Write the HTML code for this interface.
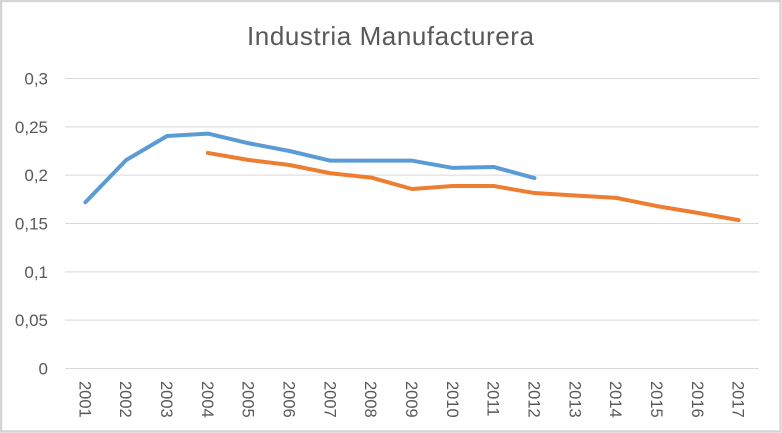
<!DOCTYPE html>
<html>
<head>
<meta charset="utf-8">
<style>
html,body{margin:0;padding:0;background:#fff;width:782px;height:433px;overflow:hidden}
svg{display:block}
text{font-family:"Liberation Sans",sans-serif;fill:#595959}
</style>
</head>
<body>
<svg id="chart" width="782" height="433" viewBox="0 0 782 433" xmlns="http://www.w3.org/2000/svg">
<rect x="1" y="1" width="779.5" height="430.5" fill="#fff" stroke="#d4d4d4" stroke-width="2.4"/>
<text x="390.5" y="45" text-anchor="middle" font-size="26" textLength="287" lengthAdjust="spacing">Industria Manufacturera</text>
<g id="grid"></g>
<g id="ylabels"></g>
<g id="xlabels"></g>
<g id="series"></g>
</svg>
<script>
const categories = ['2001','2002','2003','2004','2005','2006','2007','2008','2009','2010','2011','2012','2013','2014','2015','2016','2017'];
const seriesBlue = [0.172,0.2157,0.2405,0.243,0.233,0.225,0.215,0.215,0.215,0.2075,0.2085,0.197,null,null,null,null,null];
const seriesOrange = [null,null,null,0.223,0.2157,0.2105,0.202,0.1975,0.1857,0.1888,0.1888,0.1815,0.179,0.1765,0.168,0.161,0.1535];
const tickValues = [0,0.05,0.1,0.15,0.2,0.25,0.3];
const tickLabels = ['0','0,05','0,1','0,15','0,2','0,25','0,3'];

const NS = 'http://www.w3.org/2000/svg';
const plotLeft = 65, plotRight = 759, plotTop = 78.5, plotBottom = 368.5, axisMax = 0.3;
const xScale = i => plotLeft + (plotRight - plotLeft) * (i + 0.5) / categories.length;
const yScale = v => plotBottom - (plotBottom - plotTop) * v / axisMax;

const grid = document.getElementById('grid');
const ylabels = document.getElementById('ylabels');
const xlabels = document.getElementById('xlabels');
const seriesGroup = document.getElementById('series');

tickValues.forEach((v, i) => {
  const y = yScale(v);
  const line = document.createElementNS(NS, 'line');
  
  
  line.setAttribute('x1', plotLeft);
  line.setAttribute('x2', plotRight);
  line.setAttribute('y1', y);
  line.setAttribute('y2', y);
  line.setAttribute('stroke', '#d9d9d9');
  line.setAttribute('stroke-width', '1');
  grid.appendChild(line);

  const t = document.createElementNS(NS, 'text');
  
  
  t.setAttribute('x', 48);
  t.setAttribute('y', y + 6);
  t.setAttribute('text-anchor', 'end');
  t.setAttribute('font-size', '17');
  t.textContent = tickLabels[i];
  ylabels.appendChild(t);
});

categories.forEach((c, i) => {
  const x = xScale(i);
  const t = document.createElementNS(NS, 'text');
  
  
  t.setAttribute('transform', 'translate(' + (x - 6) + ',381) rotate(90)');
  t.setAttribute('font-size', '16.5');
  t.textContent = c;
  xlabels.appendChild(t);
});

function drawSeries(values, color) {
  const pts = [];
  values.forEach((v, i) => {
    if (v !== null) pts.push(xScale(i).toFixed(2) + ',' + yScale(v).toFixed(2));
  });
  const p = document.createElementNS(NS, 'polyline');
  p.setAttribute('fill', 'none');
  p.setAttribute('stroke', color);
  p.setAttribute('stroke-width', '4');
  p.setAttribute('stroke-linecap', 'round');
  p.setAttribute('stroke-linejoin', 'round');
  p.setAttribute('points', pts.join(' '));
  return p;
}

const blueLine = drawSeries(seriesBlue, '#5b9bd5');


seriesGroup.appendChild(blueLine);

const orangeLine = drawSeries(seriesOrange, '#ed7d31');


seriesGroup.appendChild(orangeLine);
</script>
</body>
</html>
